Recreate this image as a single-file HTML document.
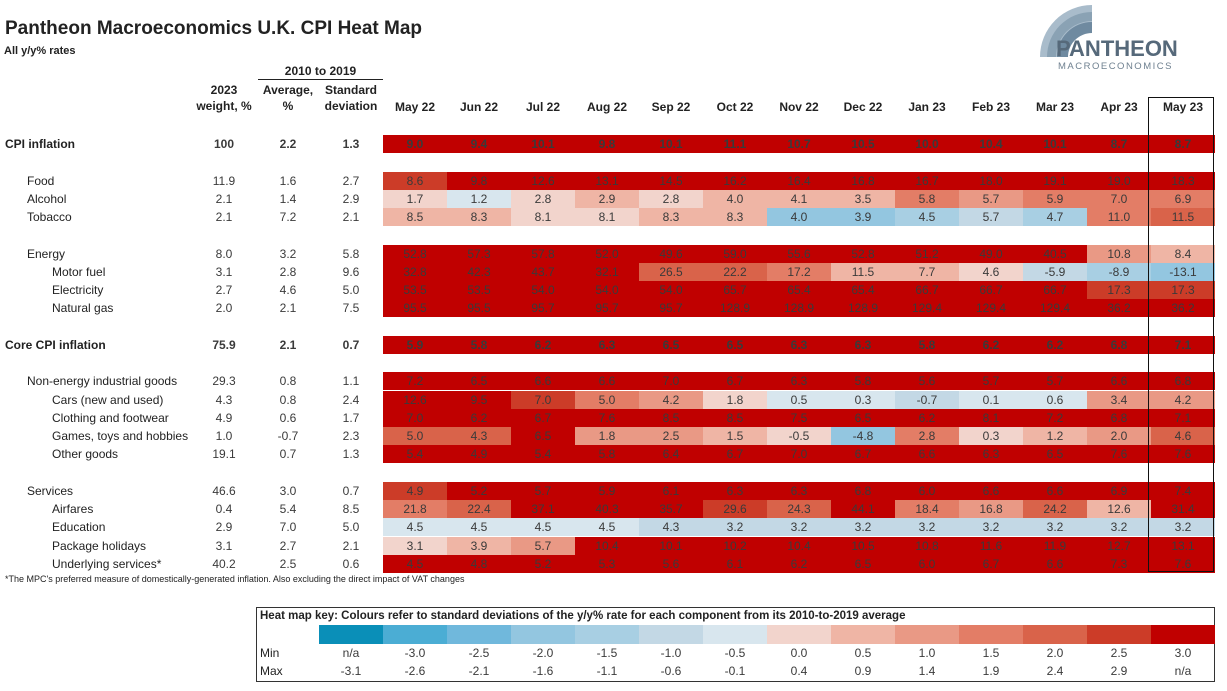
<!DOCTYPE html>
<html><head><meta charset="utf-8"><style>
body{margin:0;background:#fff;font-family:"Liberation Sans",sans-serif;color:#222}
#root{position:relative;width:1227px;height:691px;overflow:hidden;background:#fff}
.t{position:absolute;white-space:nowrap}
.c{position:absolute;text-align:center;font-size:12px;color:#3a3a3a;line-height:18px;white-space:nowrap}
.hd{position:absolute;font-size:12px;font-weight:bold;text-align:center;line-height:16px}
</style></head><body>
<div id="root">
<div class="t" style="left:5px;top:18px;font-size:19px;font-weight:bold">Pantheon Macroeconomics U.K. CPI Heat Map</div>
<div class="t" style="left:4px;top:45px;font-size:11px;font-weight:bold">All y/y% rates</div>
<svg style="position:absolute;left:1030px;top:2px" width="190" height="72">
<path d="M62 3 A52 52 0 0 0 10 55 L34 55 A28 28 0 0 1 62 27 Z" fill="#a9bccb"/>
<path d="M62 10 A45 45 0 0 0 17 55 L26 55 A36 36 0 0 1 62 19 Z" fill="#8aa2b4"/>
<path d="M62 20 A35 35 0 0 0 27 55 L38 55 A24 24 0 0 1 62 31 Z" fill="#6f8aa0"/>
<text x="26" y="54" font-family="Liberation Sans" font-weight="bold" font-size="22" fill="#56697a">PANTHEON</text>
<text x="28" y="67" font-family="Liberation Sans" font-size="9.5" letter-spacing="1.5" fill="#6f8190">MACROECONOMICS</text>
</svg>
<div class="hd" style="left:258px;top:63px;width:125px">2010 to 2019</div>
<div style="position:absolute;left:258px;top:79px;width:125px;height:1px;background:#222"></div>
<div class="hd" style="left:190px;top:82px;width:68px">2023<br>weight, %</div>
<div class="hd" style="left:257px;top:82px;width:62px">Average,<br>%</div>
<div class="hd" style="left:319px;top:82px;width:64px">Standard<br>deviation</div>
<div style="position:absolute;left:1148px;top:97px;width:64px;height:473px;border:1px solid #111;z-index:3"></div>
<div id="grid"></div>
<div class="t" style="left:5px;top:574px;font-size:9px">*The MPC's preferred measure of domestically-generated inflation. Also excluding the direct impact of VAT changes</div>
<div style="position:absolute;left:256px;top:607px;width:957px;height:73px;border:1px solid #333">
<div class="t" style="left:3px;top:2px;font-size:11.5px;font-weight:bold">Heat map key: Colours refer to standard deviations of the y/y% rate for each component from its 2010-to-2019 average</div>
<div class="t" style="left:3px;top:38px;font-size:12px">Min</div>
<div class="t" style="left:3px;top:56px;font-size:12px">Max</div>
<div id="key"></div>
</div>
</div>
<script>
const months=["May 22","Jun 22","Jul 22","Aug 22","Sep 22","Oct 22","Nov 22","Dec 22","Jan 23","Feb 23","Mar 23","Apr 23","May 23"];
const rowLabels=["CPI inflation","Food","Alcohol","Tobacco","Energy","Motor fuel","Electricity","Natural gas","Core CPI inflation","Non-energy industrial goods","Cars (new and used)","Clothing and footwear","Games, toys and hobbies","Other goods","Services","Airfares","Education","Package holidays","Underlying services*"];
const rowSlots=[0,2,3,4,6,7,8,9,11,13,14,15,16,17,19,20,21,22,23];
const rowIndent=[0,1,1,1,1,2,2,2,0,1,2,2,2,2,1,2,2,2,2];
const weights=["100","11.9","2.1","2.1","8.0","3.1","2.7","2.0","75.9","29.3","4.3","4.9","1.0","19.1","46.6","0.4","2.9","3.1","40.2"];
const averages=[2.2,1.6,1.4,7.2,3.2,2.8,4.6,2.1,2.1,0.8,0.8,0.6,-0.7,0.7,3.0,5.4,7.0,2.7,2.5];
const stdevs=[1.3,2.7,2.9,2.1,5.8,9.6,5.0,7.5,0.7,1.1,2.4,1.7,2.3,1.3,0.7,8.5,5.0,2.1,0.6];
const values=[
[9.0,9.4,10.1,9.8,10.1,11.1,10.7,10.5,10.0,10.4,10.1,8.7,8.7],
[8.6,9.8,12.6,13.1,14.5,16.2,16.4,16.8,16.7,18.0,19.1,19.0,18.3],
[1.7,1.2,2.8,2.9,2.8,4.0,4.1,3.5,5.8,5.7,5.9,7.0,6.9],
[8.5,8.3,8.1,8.1,8.3,8.3,4.0,3.9,4.5,5.7,4.7,11.0,11.5],
[52.8,57.3,57.8,52.0,49.6,59.0,55.6,52.8,51.2,49.0,40.5,10.8,8.4],
[32.8,42.3,43.7,32.1,26.5,22.2,17.2,11.5,7.7,4.6,-5.9,-8.9,-13.1],
[53.5,53.5,54.0,54.0,54.0,65.7,65.4,65.4,66.7,66.7,66.7,17.3,17.3],
[95.5,95.5,95.7,95.7,95.7,128.9,128.9,128.9,129.4,129.4,129.4,36.2,36.2],
[5.9,5.8,6.2,6.3,6.5,6.5,6.3,6.3,5.8,6.2,6.2,6.8,7.1],
[7.2,6.5,6.6,6.6,7.0,6.7,6.3,5.8,5.6,5.7,5.7,6.6,6.8],
[12.6,9.5,7.0,5.0,4.2,1.8,0.5,0.3,-0.7,0.1,0.6,3.4,4.2],
[7.0,6.2,6.7,7.6,8.5,8.5,7.5,6.5,6.2,8.1,7.2,6.8,7.1],
[5.0,4.3,6.5,1.8,2.5,1.5,-0.5,-4.8,2.8,0.3,1.2,2.0,4.6],
[5.4,4.9,5.4,5.8,6.4,6.7,7.0,6.7,6.6,6.3,6.5,7.6,7.6],
[4.9,5.2,5.7,5.9,6.1,6.3,6.3,6.8,6.0,6.6,6.6,6.9,7.4],
[21.8,22.4,37.1,40.3,35.7,29.6,24.3,44.1,18.4,16.8,24.2,12.6,31.4],
[4.5,4.5,4.5,4.5,4.3,3.2,3.2,3.2,3.2,3.2,3.2,3.2,3.2],
[3.1,3.9,5.7,10.4,10.1,10.2,10.4,10.5,10.8,11.6,11.9,12.7,13.1],
[4.5,4.8,5.2,5.3,5.6,6.1,6.2,6.5,6.0,6.7,6.6,7.3,7.6]];
const keyMin=["n/a","-3.0","-2.5","-2.0","-1.5","-1.0","-0.5","0.0","0.5","1.0","1.5","2.0","2.5","3.0"];
const keyMax=["-3.1","-2.6","-2.1","-1.6","-1.1","-0.6","-0.1","0.4","0.9","1.4","1.9","2.4","2.9","n/a"];
const palette=["#0a8fb8","#4badd4","#70b8dc","#93c6e0","#a8cfe3","#c3d8e5","#d8e6ee","#f2d4cc","#efb5a5","#e99985","#e37d66","#d9634a","#cc3c28","#c00000"];
function binIndex(z){let i=Math.floor(z*2)+7;return Math.max(0,Math.min(13,i));}
const X0=383,CW=64,Y0=144,RH=18.25;
const colX=i=>X0+i*CW;
const rowY=s=>Y0+s*RH;
const grid=document.getElementById('grid');
function add(parent,cls,name,style,text){const d=document.createElement('div');d.className=cls;


d.style.cssText=style;d.textContent=text;parent.appendChild(d);return d;}
months.forEach((m,i)=>{add(grid,'hd','month-header-'+m.replace(' ','-').toLowerCase(),`left:${colX(i)}px;top:99px;width:${CW}px`,m);});
rowLabels.forEach((lab,r)=>{
 const y=rowY(rowSlots[r]);const bold=rowIndent[r]===0?'font-weight:bold;':'';
 const lx=[5,27,52][rowIndent[r]];
 add(grid,'t','row-label',`left:${lx}px;top:${y-9}px;line-height:18px;font-size:12px;${bold}`,lab);
 add(grid,'c','weight-value',`left:190px;top:${y-9}px;width:68px;${bold}`,weights[r]);
 add(grid,'c','average-value',`left:257px;top:${y-9}px;width:62px;${bold}`,averages[r].toFixed(1));
 add(grid,'c','sd-value',`left:319px;top:${y-9}px;width:64px;${bold}`,stdevs[r].toFixed(1));
 values[r].forEach((v,i)=>{
  const z=(v-averages[r])/stdevs[r];
  add(grid,'c','heat-cell',`left:${colX(i)}px;top:${y-9}px;width:${CW}px;height:18px;background:${palette[binIndex(z)]};${bold}`,v.toFixed(1));
 });
});
const key=document.getElementById('key');
palette.forEach((c,i)=>{
 const x=62+i*CW;
 add(key,'c','key-swatch',`left:${x}px;top:17px;width:${CW}px;height:19px;background:${c}`,'');
 add(key,'c','key-min-value',`left:${x}px;top:36px;width:${CW}px`,keyMin[i]);
 add(key,'c','key-max-value',`left:${x}px;top:54px;width:${CW}px`,keyMax[i]);
});
</script>
</body></html>
